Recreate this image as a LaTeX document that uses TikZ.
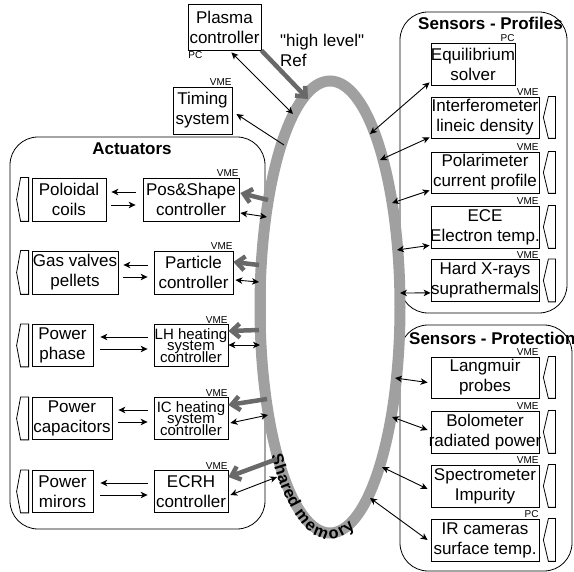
\documentclass[tikz,border=0pt]{standalone}
\usepackage{fontspec}
\setmainfont{Liberation Sans}
\newfontfamily\qfont{Liberation Sans}[Ligatures=ResetAll]
\usetikzlibrary{arrows.meta,calc,decorations.text}
\definecolor{memgray}{RGB}{160,160,160}
\definecolor{refgray}{RGB}{105,105,105}
\newcommand\ovl[1]{\makebox[0pt]{#1}}
\newcommand\chevR[1]{\draw[chev] ($(#1.north east)+(9,0)$) -- ($(#1.east)+(4,0)$) -- ($(#1.south east)+(9,0)$) -- ($(#1.south east)+(16,0)$) -- ($(#1.north east)+(16,0)$) -- cycle;}
\newcommand\chevL[1]{\draw[chev] ($(#1.north west)+(-11,0)$) -- ($(#1.west)+(-15,0)$) -- ($(#1.south west)+(-11,0)$) -- ($(#1.south west)+(-3,0)$) -- ($(#1.north west)+(-3,0)$) -- cycle;}
\begin{document}
\begin{tikzpicture}[x=1pt,y=1pt,
  box/.style={draw, line width=0.8pt, inner sep=0pt, align=center, fill=white,
    font=\fontsize{17}{20}\selectfont},
  sbox/.style={box, font={\fontsize{15}{11.5}\selectfont\lineskiplimit=-20pt}},
  grp/.style={draw, line width=0.8pt, rounded corners=28pt, inner sep=0pt},
  ttl/.style={font=\bfseries\fontsize{17}{20}\selectfont, inner sep=0pt},
  tag/.style={font=\fontsize{10}{10}\selectfont, inner sep=0.6pt},
  chev/.style={line width=0.8pt},
  dbl/.style={{Stealth[length=7pt,width=6.5pt,inset=2pt]}-{Stealth[length=7pt,width=6.5pt,inset=2pt]}, line width=0.9pt},
  one/.style={-{Stealth[length=7pt,width=6.5pt,inset=2pt]}, line width=0.9pt},
  refa/.style={-{Straight Barb[length=8pt,width=14pt]}, line width=4.5pt, draw=refgray},
  memline/.style={draw=memgray, line width=11pt}
]
\useasboundingbox (0,0) rectangle (574,-572);

% groups
\node[grp, minimum width=255, minimum height=392] (act) at (137.5,-333) {};
\node[grp, minimum width=167, minimum height=301] (prof) at (483.5,-162.5) {};
\node[grp, minimum width=172, minimum height=246] (prot) at (486,-448) {};
\node[ttl] (tA) at (132,-149) {Actuators};
\node[ttl] (tP) at (490.5,-23) {Sensors - Profiles};
\node[ttl, anchor=west] (tS) at (409,-338) {Sensors - Protection};

% shared memory
\draw[memline] (330,-307) ellipse [x radius=70, y radius=226];
\path[decorate, decoration={text along path, text align=center, raise=-6pt,
  text={|\bfseries\fontsize{16.5}{17}\selectfont|Shared memory}}]
  (330,-307) ++(215:70 and 226) arc[start angle=215, end angle=297, x radius=70, y radius=226];

% points on the shared memory ring
\coordinate (m0) at (308,-99);
\coordinate (mpc) at (293,-114);
\coordinate (mts) at (284,-145);
\coordinate (meq) at (370,-134);
\coordinate (min) at (380,-160);
\coordinate (mpo) at (392,-203);
\coordinate (mec) at (397,-250);
\coordinate (mhx) at (400,-293);
\coordinate (mla) at (395,-378);
\coordinate (mbo) at (392,-417);
\coordinate (msp) at (382,-467);
\coordinate (mir) at (370,-498);
\coordinate (g1) at (268,-200); \coordinate (b1) at (267,-217);
\coordinate (g2) at (259,-265); \coordinate (b2) at (259,-282);
\coordinate (g3) at (259,-330); \coordinate (b3) at (260,-345);
\coordinate (g4) at (267,-399); \coordinate (b4) at (268,-415);
\coordinate (g5) at (277,-459); \coordinate (b5) at (277,-477);

% top nodes
\node[box, minimum width=73, minimum height=46] (pc) at (224.5,-27) {Plasma\\controller};
\node[tag, anchor=north west] (pcT) at (pc.south west) {PC};
\node[box, minimum width=59, minimum height=47] (ts) at (202.5,-110.5) {Timing\\system};
\node[tag, anchor=south east] (tsT) at (ts.north east) {VME};
\node[align=left, anchor=north west, inner sep=0pt, font=\qfont\fontsize{17}{20}\selectfont] (hl) at (280,-34) {"high level"\\Ref};

% sensors - profiles
\node[box, minimum width=84, minimum height=42] (eq) at (473,-64) {\ovl{Equilibrium}\\solver};
\node[tag, anchor=south east] (eqT) at (eq.north east) {PC};
\node[box, minimum width=108, minimum height=41] (inter) at (485,-117.5) {Interferometer\\lineic density};
\node[tag, anchor=south east] at (inter.north east) {VME};
\node[box, minimum width=108, minimum height=41] (polar) at (485,-172.5) {Polarimeter\\current profile};
\node[tag, anchor=south east] at (polar.north east) {VME};
\node[box, minimum width=108, minimum height=42] (ece) at (485,-227) {ECE\\\ovl{Electron temp.}};
\node[tag, anchor=south east] at (ece.north east) {VME};
\node[box, minimum width=108, minimum height=42] (hxr) at (485,-280.5) {Hard X-rays\\\ovl{suprathermals}};
\node[tag, anchor=south east] at (hxr.north east) {VME};
\chevR{inter}\chevR{polar}\chevR{ece}\chevR{hxr}

% sensors - protection
\node[box, minimum width=108, minimum height=41] (lang) at (485,-377.5) {Langmuir\\probes};
\node[tag, anchor=south east] at (lang.north east) {VME};
\node[box, minimum width=108, minimum height=42] (bolo) at (485,-432) {Bolometer\\\ovl{radiated power}};
\node[tag, anchor=south east] at (bolo.north east) {VME};
\node[box, minimum width=108, minimum height=42] (spec) at (485,-486) {Spectrometer\\Impurity};
\node[tag, anchor=south east] at (spec.north east) {VME};
\node[box, minimum width=108, minimum height=42] (ir) at (485,-540) {IR cameras\\surface temp.};
\node[tag, anchor=south east] at (ir.north east) {PC};
\chevR{lang}\chevR{bolo}\chevR{spec}\chevR{ir}

% actuators
\node[box, minimum width=74, minimum height=43] (a1) at (69,-199.5) {Poloidal\\coils};
\node[box, minimum width=86, minimum height=43] (a2) at (75,-272.5) {Gas valves\\pellets};
\node[box, minimum width=61, minimum height=42] (a3) at (62.5,-345.5) {Power\\phase};
\node[box, minimum width=80, minimum height=42] (a4) at (72,-418.5) {Power\\\ovl{capacitors}};
\node[box, minimum width=61, minimum height=42] (a5) at (62.5,-491.5) {Power\\mirors};
\chevL{a1}\chevL{a2}\chevL{a3}\chevL{a4}\chevL{a5}

\node[box, minimum width=96, minimum height=43] (c1) at (191,-199.5) {Pos\&Shape\\controller};
\node[box, minimum width=79, minimum height=43] (c2) at (193.5,-272.5) {Particle\\controller};
\node[sbox, minimum width=74, minimum height=42] (c3) at (191,-345.5) {LH heating\\system\\controller};
\node[sbox, minimum width=74, minimum height=42] (c4) at (191,-418.5) {IC heating\\system\\controller};
\node[box, minimum width=74, minimum height=42] (c5) at (191,-491.5) {ECRH\\controller};
\foreach \c in {c1,c2,c3,c4,c5} {\node[tag, anchor=south east] at (\c.north east) {VME};}

% top connectors
\draw[refa] (pc.south east) -- (m0);
\draw[dbl] ($(pc.south east)+(-30,-2)$) -- (mpc);
\draw[one] (mts) -- ($(ts.east)+(4,-3.5)$);

% sensor connectors
\draw[dbl] (meq) -- ($(eq.south west)+(-1,3)$);
\draw[dbl] (min) -- ($(inter.south west)+(-1,1)$);
\draw[dbl] (mpo) -- ($(polar.south west)+(-1,3)$);
\draw[dbl] (mec) -- ($(ece.south west)+(-1,3)$);
\draw[dbl] (mhx) -- ($(hxr.south west)+(0,9)$);
\draw[dbl] (mla) -- ($(lang.west)+(-3,-5)$);
\draw[dbl] (mbo) -- ($(bolo.west)+(-3,2)$);
\draw[dbl] (msp) -- ($(spec.west)+(-3,-3)$);
\draw[dbl] (mir) -- ($(ir.west)+(-3,0)$);

% actuator connectors
\draw[one] ($(c1.west)+(-7,7.5)$) -- ($(a1.east)+(5,7.5)$);
\draw[one] ($(a1.east)+(5,-5.5)$) -- ($(c1.west)+(-7,-5.5)$);
\draw[one] ($(c2.west)+(-6,7.5)$) -- ($(a2.east)+(5,7.5)$);
\draw[one] ($(a2.east)+(5,-4.5)$) -- ($(c2.west)+(-6,-4.5)$);
\draw[one] ($(c3.west)+(-6,8.5)$) -- ($(a3.east)+(7,8.5)$);
\draw[one] ($(a3.east)+(7,-3.5)$) -- ($(c3.west)+(-6,-3.5)$);
\draw[one] ($(c4.west)+(-6,8.5)$) -- ($(a4.east)+(6,8.5)$);
\draw[one] ($(a4.east)+(6,-3.5)$) -- ($(c4.west)+(-6,-3.5)$);
\draw[one] ($(c5.west)+(-6,8.5)$) -- ($(a5.east)+(7,8.5)$);
\draw[one] ($(a5.east)+(7,-3.5)$) -- ($(c5.west)+(-6,-3.5)$);

\draw[refa] (g1) -- ($(c1.east)+(1,6.5)$);
\draw[refa] (g2) -- ($(c2.east)+(0,10.5)$);
\draw[refa] (g3) -- ($(c3.east)+(0,14.5)$);
\draw[refa] (g4) -- ($(c4.east)+(0,13.5)$);
\draw[refa] (g5) -- ($(c5.east)+(0,14.5)$);

\draw[dbl] ($(c1.east)+(1,-13.5)$) -- (b1);
\draw[dbl] ($(c2.east)+(2,-7.5)$) -- (b2);
\draw[dbl] ($(c3.east)+(0,0.5)$) -- (b3);
\draw[dbl] ($(c4.east)+(2,-4.5)$) -- (b4);
\draw[dbl] ($(c5.east)+(2,-3.5)$) -- (b5);
\end{tikzpicture}
\end{document}
